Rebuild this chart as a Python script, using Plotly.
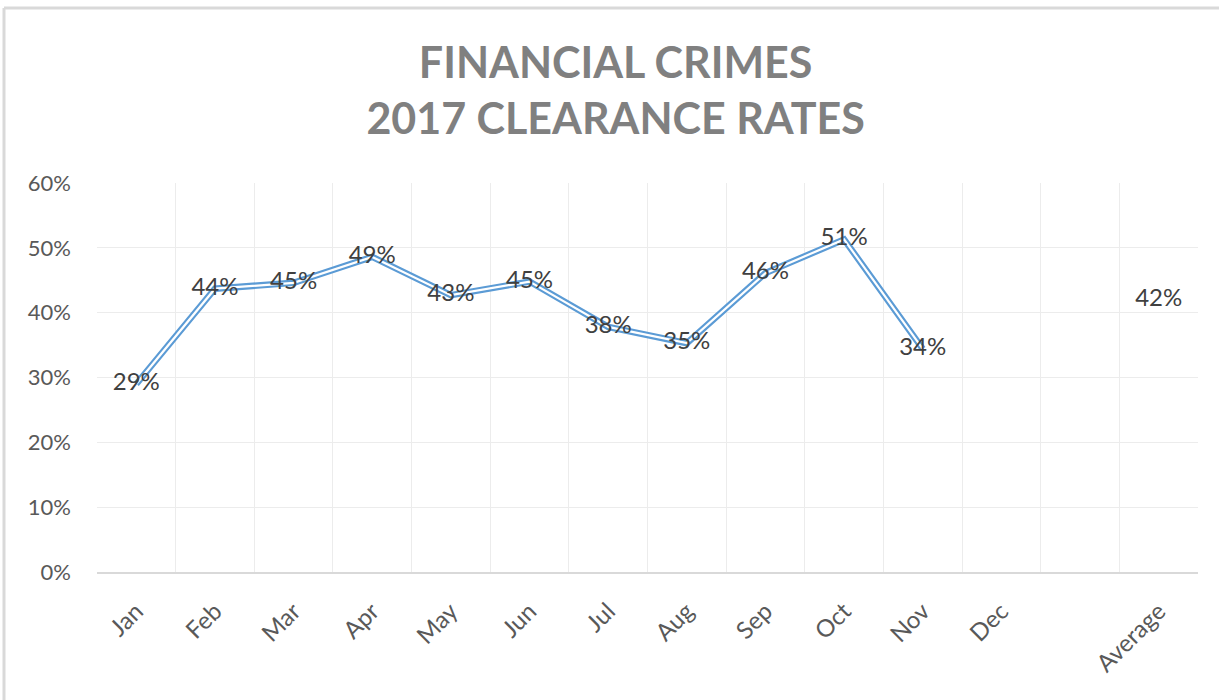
import plotly.graph_objects as go

# chart data
months = ["Jan", "Feb", "Mar", "Apr", "May", "Jun", "Jul", "Aug", "Sep", "Oct", "Nov", "Dec", " ", "Average"]
rates = [0.29, 0.437, 0.446, 0.486, 0.427, 0.448, 0.378, 0.353, 0.461, 0.513, 0.344, None, None, None]
rate_labels = ["29%", "44%", "45%", "49%", "43%", "45%", "38%", "35%", "46%", "51%", "34%", "", "", ""]
average = [None] * 13 + [0.42]
average_labels = [""] * 13 + ["42%"]
y_ticks = [0, 0.1, 0.2, 0.3, 0.4, 0.5, 0.6]

FONT = "Lato, 'Open Sans', sans-serif"
BLUE = "#5b9bd5"

fig = go.Figure()

# Excel-style double line: wide blue stroke with a thin white core
fig.add_trace(go.Scatter(
    x=months, y=rates, mode="lines",
    line=dict(color=BLUE, width=6.5),
    hoverinfo="skip", showlegend=False,
))
fig.add_trace(go.Scatter(
    x=months, y=rates, mode="lines+text",
    line=dict(color="white", width=2.2),
    text=rate_labels, textposition="middle center",
    textfont=dict(family=FONT, size=24, color="#404040"),
    hovertemplate="%{x}: %{y:.0%}<extra></extra>",
    showlegend=False,
))
fig.add_trace(go.Scatter(
    x=months, y=average, mode="text",
    text=average_labels, textposition="middle center",
    textfont=dict(family=FONT, size=24, color="#404040"),
    hovertemplate="%{x}: %{y:.0%}<extra></extra>",
    showlegend=False,
))

fig.update_layout(
    title=dict(
        text="FINANCIAL CRIMES<br>2017 CLEARANCE RATES",
        font=dict(family=FONT, size=43, color="#808080", weight="bold"),
        x=0.505, xref="container", xanchor="center",
        y=1 - 78 / 700, yref="container", yanchor="middle",
    ),
    width=1219, height=700,
    paper_bgcolor="white", plot_bgcolor="white",
    margin=dict(l=97, r=21, t=183, b=128),
    font=dict(family=FONT, size=22, color="#595959"),
    xaxis=dict(
        type="category", categoryorder="array", categoryarray=months,
        tickson="boundaries", tickangle=-45, ticks="",
        showgrid=True, gridcolor="#ececec", gridwidth=1,
        showline=True, linecolor="#d9d9d9", linewidth=1.5,
        tickfont=dict(family=FONT, size=24, color="#595959"),
        ticklabelstandoff=14,
        range=[-0.5, len(months) - 0.5],
    ),
    yaxis=dict(
        range=[0, 0.6], tickvals=y_ticks, tickformat=".0%",
        showgrid=True, gridcolor="#ececec", gridwidth=1,
        zeroline=False, showline=False, ticks="",
        tickfont=dict(family=FONT, size=22, color="#595959"),
        ticklabelstandoff=25,
    ),
    shapes=[
        # outer chart border (top and left edges visible in the crop)
        dict(type="line", xref="paper", yref="paper",
             x0=(4 - 97) / 1101, x1=(1219 - 97) / 1101,
             y0=(572 - 8) / 389, y1=(572 - 8) / 389,
             line=dict(color="#d9d9d9", width=3)),
        dict(type="line", xref="paper", yref="paper",
             x0=(4 - 97) / 1101, x1=(4 - 97) / 1101,
             y0=(572 - 8) / 389, y1=(572 - 700) / 389,
             line=dict(color="#d9d9d9", width=3)),
    ],
)

# drop the browser's default body margin so the chart sits at the page origin
fig.write_html(
    "out.html",
    config={"displayModeBar": False},
    post_script="document.body.style.margin = '0';",
)
